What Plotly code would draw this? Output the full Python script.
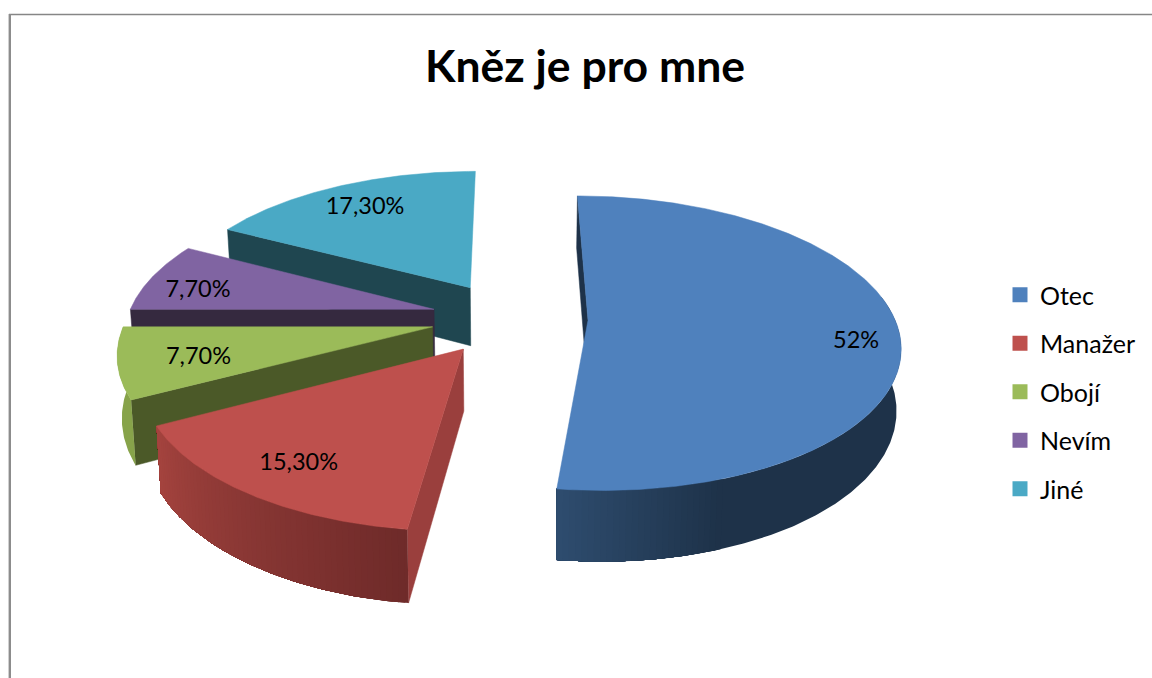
import numpy as np
import plotly.graph_objects as go

TITLE = "Kněz je pro mne"
categories = ["Otec", "Manažer", "Obojí", "Nevím", "Jiné"]
values = [52.0, 15.3, 7.7, 7.7, 17.3]
value_labels = ["52%", "15,30%", "7,70%", "7,70%", "17,30%"]

top_colors = ["#4f81bd", "#be504d", "#9bbb59", "#8064a2", "#4aa9c5"]
radial_colors = ["#1e3249", "#9a3f3d", "#4b5928", "#35293f", "#1f4650"]
# gradient of the outer wall, from the wedge's start angle to its end angle
wall_grad = [("#1e3249", "#2f4d70"), ("#6f2b2a", "#a5443f"), ("#87a34a", "#87a34a"), None, None]
wall_start = [80.0, None, None, None, None]
wall_flat_until = [160.0, None, None, None, None]
draw_order = [4, 3, 2, 0, 1]
label_r = [0.86, 0.79, 0.75, 0.82, 0.80]
label_shift = [4.4, 0.0, 0.0, -2.3, 0.7]
LABEL_DY = 4.5

# projection of the tilted pie
X0, Y0, RX, RY, K, DEPTH, Q, EXPLODE = 509.5, 318.0, 306.5, 143.0, 0.155, 60.0, 0.012, 0.256


def project(X, Y, bottom=False):
    X, Y = np.asarray(X, float), np.asarray(Y, float)
    W = 1 + K * Y
    x = X0 + RX * X / W
    y = Y0 - RY * Y / W
    if bottom:
        y = y + DEPTH / W
        x = X0 + (x - X0) * (1 - Q)
    return x, y


def hex_rgb(c):
    return np.array([int(c[i:i + 2], 16) for i in (1, 3, 5)], float)


def mix(a, b, t):
    v = hex_rgb(a) * (1 - t) + hex_rgb(b) * t
    return "rgb(%d,%d,%d)" % tuple(v)


fig = go.Figure()


def poly(x, y, color, lw=0.5):
    fig.add_trace(go.Scatter(
        x=list(x) + [x[0]], y=list(y) + [y[0]], mode="lines", fill="toself",
        fillcolor=color, line=dict(color=color, width=lw),
        hoverinfo="skip", showlegend=False))


edges = np.cumsum([0.0] + values) / sum(values) * 360.0
for i in draw_order:
    a0, a1 = edges[i], edges[i + 1]
    mid = np.radians((a0 + a1) / 2)
    ox, oy = EXPLODE * np.sin(mid), EXPLODE * np.cos(mid)
    deg = np.linspace(a0, a1, int(a1 - a0) * 2 + 2)
    th = np.radians(deg)
    ax, ay = ox + np.sin(th), oy + np.cos(th)

    # visible radial face (at the wedge's start angle)
    bx, by = [ox, ax[0]], [oy, ay[0]]
    tx, ty = project(bx, by)
    dx, dy = project(bx, by, True)
    poly([tx[0], tx[1], dx[1], dx[0]], [ty[0], ty[1], dy[1], dy[0]], radial_colors[i])

    # outer wall: strips painted over one another, each reaching to the wedge's end
    if wall_grad[i] is not None:
        tx, ty = project(ax, ay)
        dx, dy = project(ax, ay, True)
        lo, hi = wall_grad[i]
        first = 0 if wall_start[i] is None else int(np.searchsorted(deg, wall_start[i]))
        flat = a0 if wall_flat_until[i] is None else wall_flat_until[i]
        flat_idx = int(np.searchsorted(deg, flat))
        starts = [first] + list(range(max(flat_idx, first + 1), len(th) - 1, 2))
        if lo == hi:
            starts = [first]
        for j in starts:
            t = max(0.0, (deg[j] - flat) / (a1 - flat))
            xs = list(tx[j:]) + list(dx[j:][::-1])
            ys = list(ty[j:]) + list(dy[j:][::-1])
            poly(xs, ys, mix(lo, hi, t), lw=0)

    # top surface
    tx, ty = project(np.r_[ox, ax], np.r_[oy, ay])
    poly(tx, ty, top_colors[i])

# value labels
lx, ly = [], []
for i in range(len(values)):
    a = np.radians((edges[i] + edges[i + 1]) / 2 + label_shift[i])
    mid = np.radians((edges[i] + edges[i + 1]) / 2)
    px, py = project(EXPLODE * np.sin(mid) + label_r[i] * np.sin(a),
                     EXPLODE * np.cos(mid) + label_r[i] * np.cos(a))
    lx.append(float(px))
    ly.append(float(py) + LABEL_DY)
fig.add_trace(go.Scatter(
    x=lx, y=ly, mode="text", text=value_labels, textposition="middle center",
    textfont=dict(family="Lato", size=23.5, color="#000000"),
    hoverinfo="skip", showlegend=False))

# legend entries
for i, c in enumerate(categories):
    fig.add_trace(go.Scatter(
        x=[None], y=[None], mode="markers", name=c, legendgroup=c,
        marker=dict(symbol="square", size=15, color=top_colors[i])))

fig.update_layout(
    width=1152, height=678, autosize=False,
    margin=dict(l=0, r=0, t=0, b=0),
    paper_bgcolor="white", plot_bgcolor="white",
    xaxis=dict(range=[0, 1152], visible=False, fixedrange=True),
    yaxis=dict(range=[678, 0], visible=False, fixedrange=True),
    title=dict(text="<b>%s</b>" % TITLE, x=585 / 1152, xanchor="center",
               y=1 - 66 / 678, yanchor="middle",
               font=dict(family="Lato", size=44.5, color="#000000")),
    legend=dict(x=1000 / 1152, y=1 - 272 / 678, xanchor="left", yanchor="top",
                font=dict(family="Lato", size=25, color="#000000"),
                tracegroupgap=13, itemsizing="trace", bgcolor="rgba(0,0,0,0)"),
    shapes=[
        dict(type="line", xref="x", yref="y", x0=9, x1=1152, y0=14.5, y1=14.5,
             line=dict(color="#868686", width=1.6)),
        dict(type="line", xref="x", yref="y", x0=10, x1=10, y0=14, y1=678,
             line=dict(color="#8c8c8c", width=2)),
        dict(type="line", xref="x", yref="y", x0=8.5, x1=8.5, y0=14, y1=678,
             line=dict(color="#d0d0d0", width=1)),
    ],
)
fig.write_html("out.html", config=dict(displayModeBar=False),
               post_script="document.body.style.margin='0';document.documentElement.style.overflow='hidden';")
